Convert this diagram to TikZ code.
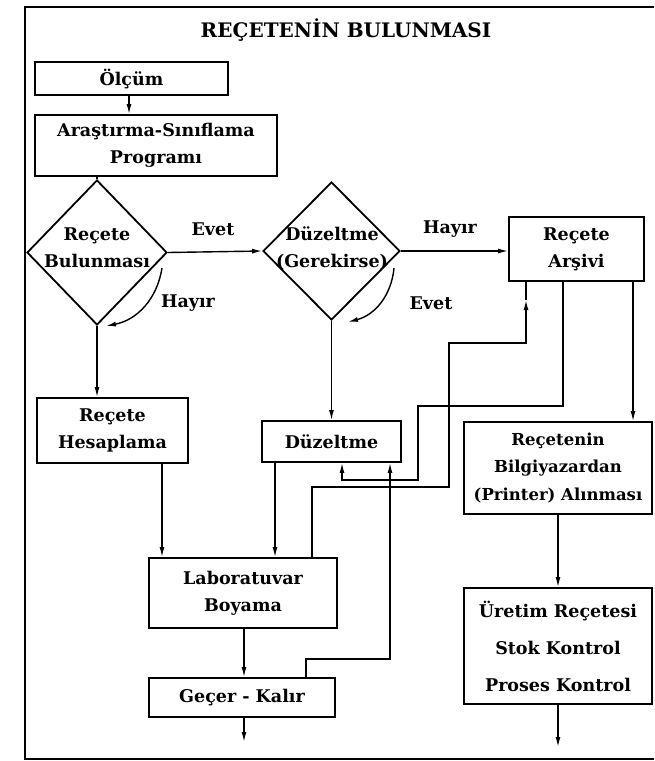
\documentclass[tikz,border=0pt]{standalone}
\usepackage{fontspec}
\setmainfont{DejaVu Serif}
\usetikzlibrary{shapes.geometric,arrows.meta}
\begin{document}
\begin{tikzpicture}[x=1pt,y=-1pt,
  txt/.style={font=\fontsize{17.5}{27}\selectfont\bfseries, align=center, inner sep=0pt},
  box/.style={txt, draw, line width=1.8pt},
  dia/.style={diamond, draw, line width=1.8pt, inner sep=0pt},
  conn/.style={line width=1.4pt},
  arr/.style={conn, -{Latex[length=10pt,width=5pt]}},
]
\useasboundingbox (0,0) rectangle (654,761);
\draw[line width=2.2pt] (654,7) -- (25,7) -- (25,759) -- (654,759);

\node[txt, font=\fontsize{20}{24}\selectfont\bfseries] (title) at (346,30) {REÇETENİN BULUNMASI};
\node[box, minimum width=193pt, minimum height=33pt] (olcum) at (131.5,78.5) {Ölçüm};
\node[box, minimum width=242pt, minimum height=61pt] (arast) at (156,145.5) {Araştırma-Sınıflama\\Programı};

\node[dia, minimum width=140pt, minimum height=145pt] (d1) at (97,252.5) {};
\node[txt] (d1t) at (97,248) {Reçete\\Bulunması};
\node[dia, minimum width=137pt, minimum height=138pt] (d2) at (331.5,251) {};
\node[txt] (d2t) at (332,248) {Düzeltme\\(Gerekirse)};

\node[box, minimum width=135pt, minimum height=64pt] (arsivi) at (576.5,249) {Reçete\\Arşivi};
\node[box, minimum width=151pt, minimum height=65pt] (hesap) at (112.5,430.5) {Reçete\\Hesaplama};
\node[box, minimum width=139pt, minimum height=41pt] (duz) at (331.5,441.5) {Düzeltme};
\node[box, minimum width=188pt, minimum height=92pt, font=\fontsize{16.5}{27.5}\selectfont\bfseries] (bilgi) at (558,468) {Reçetenin\\Bilgiyazardan\\(Printer) Alınması};
\node[box, minimum width=188pt, minimum height=70pt] (lab) at (243,593) {Laboratuvar\\Boyama};
\node[box, minimum width=186pt, minimum height=39pt] (gecer) at (242,697.5) {Geçer - Kalır};
\node[box, minimum width=188pt, minimum height=116pt, font=\fontsize{17.5}{37}\selectfont\bfseries] (uretim) at (558,646) {Üretim Reçetesi\\Stok Kontrol\\Proses Kontrol};

\node[txt] (evet1) at (213,229) {Evet};
\node[txt] (hayir1) at (450,229) {Hayır};
\node[txt] (hayir2) at (188,303) {Hayır};
\node[txt] (evet2) at (431,303) {Evet};

% free ends / bends
\coordinate (h1s) at (162,268);
\coordinate (h1e) at (106,326);
\coordinate (h2s) at (394,268);
\coordinate (h2e) at (348,322);
\coordinate (gout) at (244,742);
\coordinate (uout) at (558,747);
\coordinate (m16) at (526,300);

% main flow
\draw[arr] ([xshift=-2.5pt]olcum.south) -- ([xshift=-2.5pt]olcum.south |- arast.north);
\draw[conn] (d1.north |- arast.south) -- (d1.north);
\draw[arr] (d1.east) -- (d2.west);
\draw[arr] (d2.east) -- (d2.east -| arsivi.west);
\draw[arr] (h1s) to[bend left=35] (h1e);
\draw[arr] (h2s) to[bend left=35] (h2e);
\draw[arr] (d1.south) -- (d1.south |- hesap.north);
\draw[arr] (d2.south) -- (d2.south |- duz.north);
\draw[arr] ([xshift=49.5pt]hesap.south) -- ([xshift=49.5pt]hesap.south |- lab.north);
\draw[arr] ([xshift=-56.5pt]duz.south) -- ([xshift=-56.5pt]duz.south |- lab.north);
\draw[arr] ([xshift=1pt]lab.south) -- ([xshift=1pt]lab.south |- gecer.north);
\draw[arr] ([xshift=2pt]gecer.south) -- (gout);
\draw[arr] (bilgi.south) -- (uretim.north);
\draw[arr] (uretim.south) -- (uout);
\draw[arr] ([xshift=56.5pt]arsivi.south) -- ([xshift=56.5pt]arsivi.south |- bilgi.north);

% feedback lines
\draw[arr] ([xshift=-13.5pt]arsivi.south) -- ++(0,124) -| (418,480) -| ([xshift=10.5pt]duz.south);
\draw[arr] ([xshift=69pt]lab.north) -- ++(0,-70) -| (449,343) -| (m16);
\draw[conn] (m16) -- (m16 |- arsivi.south);
\draw[arr] ([xshift=64pt]gecer.north) -- ++(0,-18) -| ([xshift=58.5pt]duz.south);
\end{tikzpicture}
\end{document}
